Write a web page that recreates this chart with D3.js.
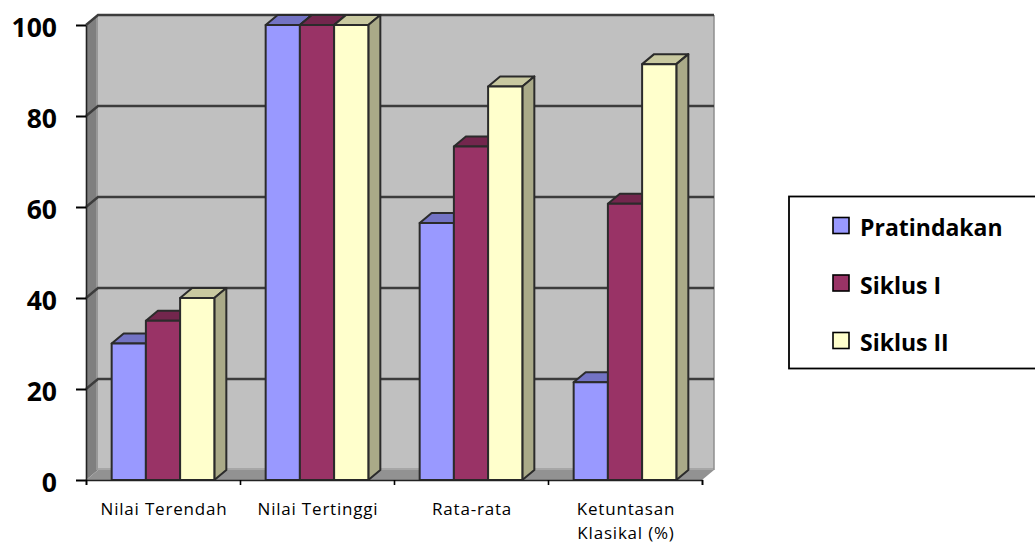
<!DOCTYPE html>
<html>
<head>
<meta charset="utf-8">
<script src="https://cdn.jsdelivr.net/npm/d3@7/dist/d3.min.js"></script>
<style>
html,body{margin:0;padding:0;background:#fff;overflow:hidden}
svg{display:block}
text{font-family:"Open Sans",sans-serif;fill:#000}
.ytick text{font-weight:700;font-size:26.5px}
.xlabel{font-size:17px;letter-spacing:.8px}
.legend-label{font-weight:700;font-size:23px}
</style>
</head>
<body>
<svg id="chart" width="1035" height="545"></svg>
<script>
const categories = [["Nilai Terendah"], ["Nilai Tertinggi"], ["Rata-rata"], ["Ketuntasan", "Klasikal (%)"]];
const seriesNames = ["Pratindakan", "Siklus I", "Siklus II"];
const pratindakan = [30, 100, 56.5, 21.5];
const siklusI = [35, 100, 73.3, 60.7];
const siklusII = [40, 100, 86.5, 91.4];
const yTicks = [0, 20, 40, 60, 80, 100];

const seriesValues = [pratindakan, siklusI, siklusII];
const faceColors = ["#9999ff", "#993366", "#ffffcc"];
const topColors = ["#7373c4", "#73264d", "#c9c9a0"];
const sideColors = ["#6b6bb2", "#6b2447", "#aaaa88"];

const svg = d3.select("#chart");
const plot = {left: 86, right: 702, top: 25, bottom: 480};
const depth = {x: 12, y: -10};

const y = d3.scaleLinear().domain([0, 100]).range([plot.bottom, plot.top]);
const x0 = d3.scaleBand().domain(d3.range(categories.length)).range([plot.left, plot.right]);
const groupWidth = x0.bandwidth() * 3 / 4.5;
const x1 = d3.scaleBand().domain(d3.range(seriesNames.length))
  .range([(x0.bandwidth() - groupWidth) / 2, (x0.bandwidth() + groupWidth) / 2]);

const poly = pts => pts.map(p => p.join(",")).join(" ");
const back = (px, py) => [px + depth.x, py + depth.y];

// Chart box: back wall, left wall and floor
const walls = svg.append("g");
walls.append("polygon")
  .attr("points", poly([back(plot.left, y(100)), back(plot.right, y(100)), back(plot.right, y(0)), back(plot.left, y(0))]))
  .attr("fill", "#c0c0c0");
walls.append("polygon")
  .attr("points", poly([[plot.left, y(100)], back(plot.left, y(100)), back(plot.left, y(0)), [plot.left, y(0)]]))
  .attr("fill", "#7f7f7f");
walls.append("polygon")
  .attr("points", poly([[plot.left, y(0)], back(plot.left, y(0)), back(plot.right, y(0)), [plot.right, y(0)]]))
  .attr("fill", "#929292");

// Soft inner edges where the walls meet
walls.append("line")
  .attr("x1", back(plot.left, 0)[0] - 1).attr("x2", back(plot.left, 0)[0] - 1)
  .attr("y1", back(0, y(100))[1]).attr("y2", back(0, y(0))[1])
  .attr("stroke", "#989898").attr("stroke-width", 2);
walls.append("line")
  .attr("x1", back(plot.left, 0)[0]).attr("x2", back(plot.right, 0)[0])
  .attr("y1", back(0, y(0))[1] - 1).attr("y2", back(0, y(0))[1] - 1)
  .attr("stroke", "#a6a6a6").attr("stroke-width", 2);
walls.append("line")
  .attr("x1", back(plot.right, 0)[0]).attr("x2", back(plot.right, 0)[0])
  .attr("y1", back(0, y(100))[1]).attr("y2", back(0, y(0))[1])
  .attr("stroke", "#8f8f8f").attr("stroke-width", 1.5);

// Gridlines run along the back wall and fold down the left wall; 100 closes the top
const grid = svg.append("g").attr("fill", "none").attr("stroke", "#3c3c3c").attr("stroke-width", 2.4);
yTicks.filter(t => t > 0).forEach(t => {
  grid.append("polyline")
    .attr("points", poly([[plot.left, y(t)], back(plot.left, y(t)), back(plot.right, y(t))]));
});

// Bars, drawn left to right so that each front face covers its neighbour's side
const bars = svg.append("g").attr("stroke", "#2b2b2b").attr("stroke-width", 2).attr("stroke-linejoin", "round");
categories.forEach((_, c) => {
  seriesNames.forEach((_, s) => {
    const v = seriesValues[s][c];
    const xl = x0(c) + x1(s), xr = xl + x1.bandwidth();
    const yt = y(v), yb = y(0);
    bars.append("polygon")
      .attr("points", poly([[xl, yt], back(xl, yt), back(xr, yt), [xr, yt]]))
      .attr("fill", topColors[s]);
    bars.append("polygon")
      .attr("points", poly([[xr, yt], back(xr, yt), back(xr, yb), [xr, yb]]))
      .attr("fill", sideColors[s]);
    bars.append("rect")
      .attr("x", xl).attr("y", yt)
      .attr("width", x1.bandwidth()).attr("height", yb - yt)
      .attr("fill", faceColors[s]);
  });
});

// Value axis
const yAxis = svg.append("g")
  .attr("class", "ytick")
  .attr("transform", `translate(${plot.left},0)`)
  .call(d3.axisLeft(y).tickValues(yTicks).tickSize(10).tickPadding(19).tickSizeOuter(0));
yAxis.selectAll("line").attr("stroke", "#000").attr("stroke-width", 2);
yAxis.select(".domain").attr("stroke", "#222").attr("stroke-width", 1.6);
yAxis.selectAll("text").attr("dy", ".44em").style("fill", "#000");

// Category axis: ticks sit between the groups
const xEdges = d3.scaleLinear().domain([0, categories.length]).range([plot.left, plot.right]);
const xAxis = svg.append("g")
  .attr("transform", `translate(0,${plot.bottom})`)
  .call(d3.axisBottom(xEdges).tickValues(d3.range(categories.length + 1)).tickSize(5).tickFormat(""));
xAxis.selectAll("line").attr("stroke", "#000").attr("stroke-width", 1.6);
xAxis.select(".domain").attr("stroke", "#222").attr("stroke-width", 1.6);

categories.forEach((lines, c) => {
  lines.forEach((line, i) => {
    svg.append("text")
      .attr("class", "xlabel")
      .attr("x", x0(c) + x0.bandwidth() / 2 + 1)
      .attr("y", 515 + i * 24)
      .attr("text-anchor", "middle")
      .text(line);
  });
});

// Legend box; its right side runs off the canvas
const legend = svg.append("g");
legend.append("rect")
  .attr("x", 789).attr("y", 196.5).attr("width", 260).attr("height", 172)
  .attr("fill", "#fff").attr("stroke", "#000").attr("stroke-width", 1.8);
const legendY = d3.scalePoint().domain(seriesNames).range([225.5, 340.5]);
seriesNames.forEach((name, s) => {
  legend.append("rect")
    .attr("x", 833).attr("y", legendY(name) - 8)
    .attr("width", 16).attr("height", 16)
    .attr("fill", faceColors[s]).attr("stroke", "#000").attr("stroke-width", 1.6);
  legend.append("text")
    .attr("class", "legend-label")
    .attr("x", 860).attr("y", legendY(name) + 10.5)
    .text(name);
});
</script>
</body>
</html>
